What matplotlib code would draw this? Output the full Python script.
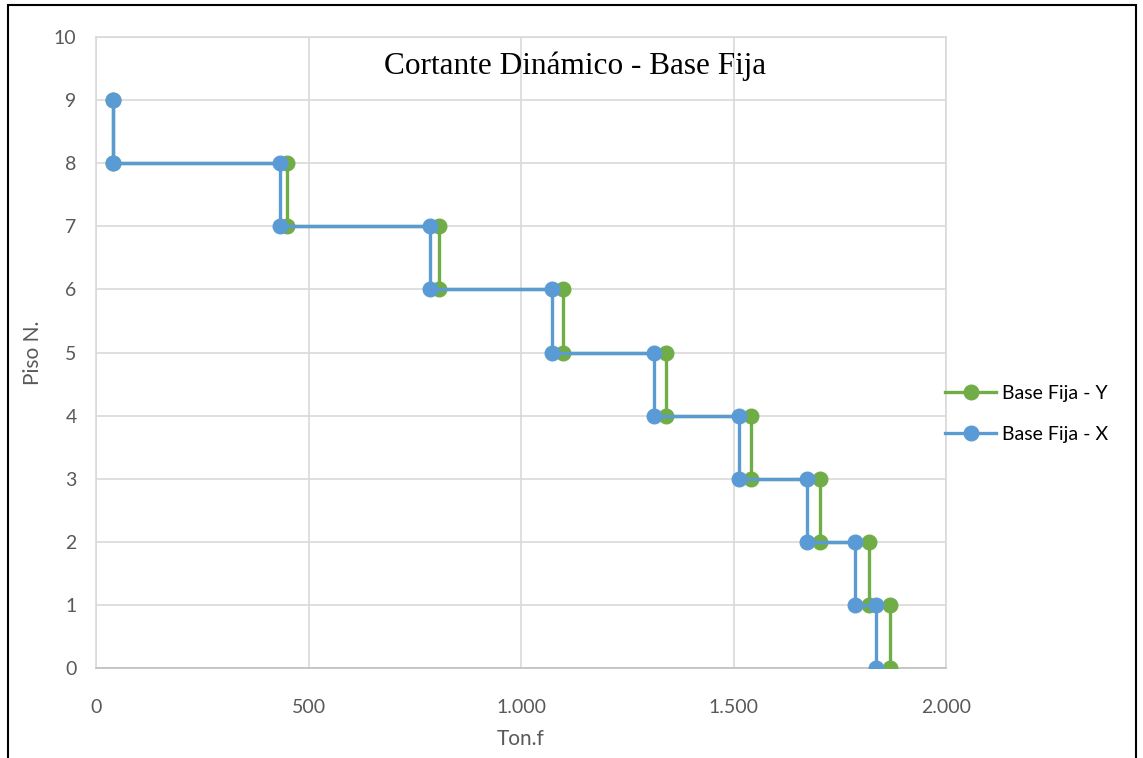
import matplotlib
matplotlib.use("Agg")
import matplotlib.pyplot as plt
from matplotlib.patches import Rectangle
from matplotlib.ticker import FuncFormatter, MultipleLocator

# Story-shear step profile (Ton.f) for each direction
pisos_x = [9, 8, 8, 7, 7, 6, 6, 5, 5, 4, 4, 3, 3, 2, 2, 1, 1, 0]
cortante_x = [40, 40, 434, 434, 786, 786, 1072, 1072, 1314, 1314, 1514, 1514, 1674, 1674, 1786, 1786, 1835, 1835]

pisos_y = [9, 8, 8, 7, 7, 6, 6, 5, 5, 4, 4, 3, 3, 2, 2, 1, 1, 0]
cortante_y = [40, 40, 449, 449, 808, 808, 1099, 1099, 1342, 1342, 1542, 1542, 1704, 1704, 1819, 1819, 1868, 1868]

titulo = "Cortante Dinámico - Base Fija"
etiqueta_x = "Ton.f"
etiqueta_y = "Piso N."
serie_y = "Base Fija - Y"
serie_x = "Base Fija - X"

VERDE = "#70AD47"
AZUL = "#5B9BD5"
GRIS_TXT = "#595959"
GRIS_GRID = "#D9D9D9"

plt.rcParams['font.family'] = ['Lato', 'DejaVu Sans']

fig = plt.figure(figsize=(11.43, 7.58), dpi=100)
fig.patches.append(Rectangle((8 / 1143, -0.01), 1128 / 1143, 1 - 5 / 758 + 0.01,
                             transform=fig.transFigure, fill=False,
                             edgecolor="black", linewidth=1.5))

ax = fig.add_axes([96 / 1143, 90 / 758, 850 / 1143, 631 / 758])

ax.plot(cortante_y, pisos_y, color=VERDE, lw=2.4, marker="o", ms=10.5,
        label=serie_y, zorder=3)
ax.plot(cortante_x, pisos_x, color=AZUL, lw=2.4, marker="o", ms=10.5,
        label=serie_x, zorder=4)

ax.set_xlim(0, 2000)
ax.set_ylim(0, 10)
ax.xaxis.set_major_locator(MultipleLocator(500))
ax.yaxis.set_major_locator(MultipleLocator(1))
ax.xaxis.set_major_formatter(FuncFormatter(lambda v, p: f"{int(v):,}".replace(",", ".")))

ax.grid(True, color=GRIS_GRID, lw=1.2)
ax.set_axisbelow(True)
for s in ax.spines.values():
    s.set_color(GRIS_GRID)
    s.set_linewidth(1.2)
ax.spines["bottom"].set_color("#BFBFBF")
ax.tick_params(length=0, labelsize=14, labelcolor=GRIS_TXT)
ax.tick_params(axis="x", pad=22)
ax.tick_params(axis="y", pad=14)

ax.set_xlabel(etiqueta_x, fontsize=15, color=GRIS_TXT, labelpad=10)
ax.set_ylabel(etiqueta_y, fontsize=15, color=GRIS_TXT, labelpad=8)

fig.text(575 / 1143, 1 - 66 / 758, titulo, ha="center", va="center",
         fontsize=22.5, family=["Liberation Serif", "DejaVu Serif"], color="black")

leg = ax.legend(loc="center left", bbox_to_anchor=(0.99, 0.4025), frameon=False,
                fontsize=14, handlelength=2.6, labelspacing=1.25, handletextpad=0.3,
                borderaxespad=0)

fig.savefig("out.png", dpi=100)
